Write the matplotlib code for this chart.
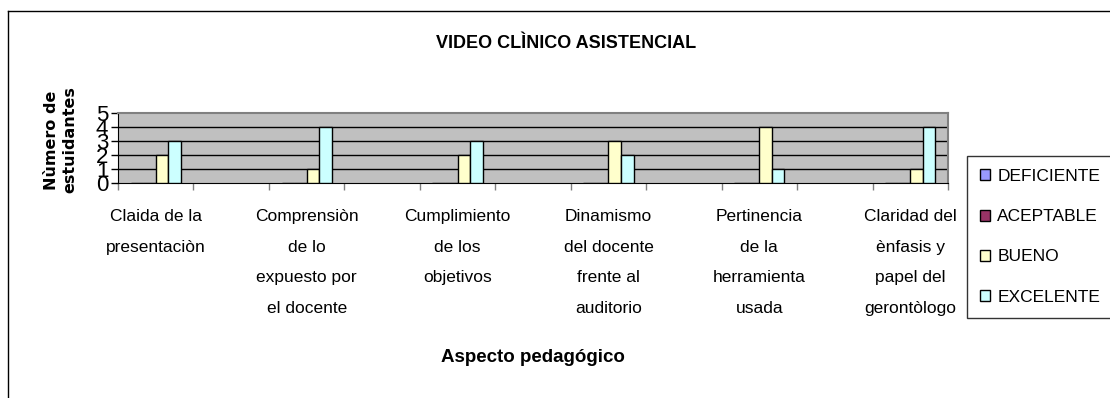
import matplotlib
matplotlib.use("Agg")
import numpy as np
import matplotlib.pyplot as plt
from matplotlib.lines import Line2D
from matplotlib import font_manager

# datos
aspectos = ["Claida de la\npresentaciòn",
            "Comprensiòn\nde lo\nexpuesto por\nel docente",
            "Cumplimiento\nde los\nobjetivos",
            "Dinamismo\ndel docente\nfrente al\nauditorio",
            "Pertinencia\nde la\nherramienta\nusada",
            "Claridad del\nènfasis y\npapel del\ngerontòlogo"]
series = ["DEFICIENTE", "ACEPTABLE", "BUENO", "EXCELENTE"]
deficiente = [0, 0, 0, 0, 0, 0]
aceptable = [0, 0, 0, 0, 0, 0]
bueno = [2, 1, 2, 3, 4, 1]
excelente = [3, 4, 3, 2, 1, 4]
colores = ["#9999FF", "#993366", "#FFFFCC", "#CCFFFF"]
yticks = [0, 1, 2, 3, 4, 5]

names = {f.name for f in font_manager.fontManager.ttflist}
narrow = "Liberation Sans Narrow" if "Liberation Sans Narrow" in names else "Liberation Sans"

W, H = 1110, 398
fig = plt.figure(figsize=(W / 100, H / 100), dpi=100)
ax = fig.add_axes([118 / W, 1 - 183 / H, (948 - 118) / W, 70 / H])
ax.set_facecolor("#C0C0C0")

# 11 casillas, las impares vacias (como en el original)
x = np.arange(len(aspectos)) * 2
w = 0.166
valores = [deficiente, aceptable, bueno, excelente]
handles = []
for i, (vals, c) in enumerate(zip(valores, colores)):
    b = ax.bar(x + (i - 1.5) * w, vals, w, color=c, edgecolor="black", linewidth=1.0, zorder=3)
    handles.append(b)

ax.set_xlim(-0.5, 10.5)
ax.set_ylim(0, 5)
ax.set_xticks(np.arange(-0.5, 11, 1))
ax.set_xticklabels([])
ax.tick_params(axis="x", length=5, color="#808080", width=1)
ax.set_yticks(yticks)
ax.set_yticklabels([str(v) for v in yticks], fontsize=16, family=narrow)
ax.tick_params(axis="y", length=5, width=1, pad=2)
for v in yticks[1:-1]:
    ax.axhline(v, color="black", lw=1, zorder=1)
for s in ["top", "right"]:
    ax.spines[s].set_color("#808080")
    ax.spines[s].set_linewidth(1.5)
ax.spines["left"].set_color("black")
ax.spines["bottom"].set_color("black")

for xi, lab in zip(x, aspectos):
    ax.text(xi, -1.85, lab, ha="center", va="top", fontsize=12.5, family=narrow,
            linespacing=2.3, transform=ax.transData)

fig.text(566 / W, 1 - 43 / H, "VIDEO CLÌNICO ASISTENCIAL", ha="center", va="center",
         fontsize=13, fontweight="bold", family=narrow)
fig.text(533 / W, 1 - 358 / H, "Aspecto pedagógico", ha="center", va="center",
         fontsize=13.5, fontweight="bold", family="Liberation Sans")
fig.text(61 / W, 1 - 140 / H, "Nùmero de\nestuidantes", ha="center", va="center",
         rotation=90, fontsize=11.5, fontweight="bold", family="DejaVu Sans", linespacing=1.3)

# marco exterior
fig.add_artist(Line2D([8 / W, 8 / W], [0, 1 - 11 / H], color="black", lw=1, transform=fig.transFigure))
fig.add_artist(Line2D([8 / W, 1], [1 - 11 / H, 1 - 11 / H], color="black", lw=1, transform=fig.transFigure))

leg = fig.legend(handles, series, loc="upper left",
                 bbox_to_anchor=(967 / W, 1 - 316 / H, 0.2, 160 / H), mode="expand",
                 prop={"family": narrow, "size": 12.5}, frameon=True, fancybox=False,
                 handlelength=0.6, handleheight=0.6, handletextpad=0.4,
                 labelspacing=1.45, borderpad=0.75, borderaxespad=0)
leg.get_frame().set_edgecolor("black")
leg.get_frame().set_linewidth(1)

fig.savefig("out.png", dpi=100)
